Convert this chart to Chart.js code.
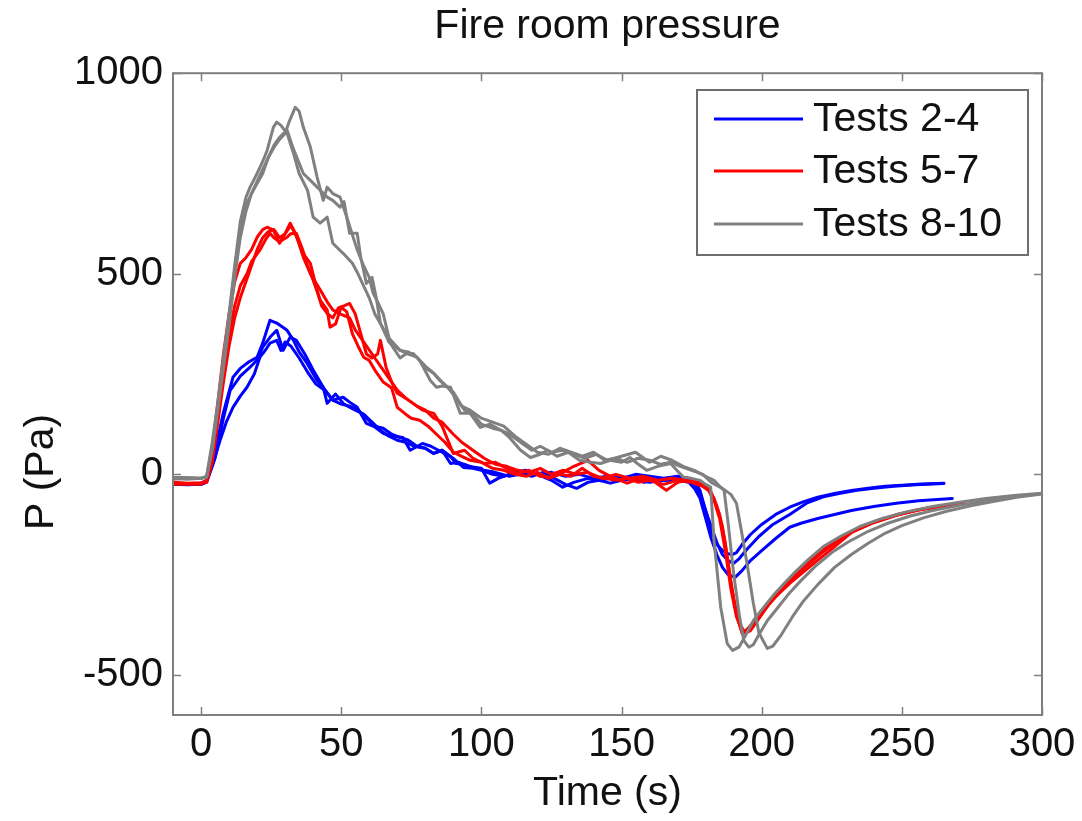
<!DOCTYPE html>
<html>
<head>
<meta charset="utf-8">
<script src="https://cdn.jsdelivr.net/npm/chart.js@4.4.1/dist/chart.umd.min.js"></script>
<style>
html,body{margin:0;padding:0;background:#fff;}
canvas{display:block;}
</style>
</head>
<body>
<canvas id="c" width="1082" height="821"></canvas>
<script>
// ---- text ----
const chartTitle = 'Fire room pressure';
const xLabel = 'Time (s)';
const yLabel = 'P (Pa)';
const groupLabels = ['Tests 2-4', 'Tests 5-7', 'Tests 8-10'];
const xTicks = [0, 50, 100, 150, 200, 250, 300];
const yTicks = [-500, 0, 500, 1000];

// ---- series: [time (s), pressure (Pa)] ----
const blue1 = [[-10,-25],[-5,-25],[0,-25],[2,-18],[4.3,35],[7.9,152],[11.4,242],[14,264],[17,280],[20,292],[22,327],[24.6,384],[27,377],[30.7,359],[33,334],[35,305],[37.8,277],[41.4,234],[43.6,217],[47,185],[50.7,192],[53,180],[55.7,167],[59,127],[62,118],[65,102],[68,95],[72,92],[74.6,60],[79,77],[82,70],[86,55],[90,40],[93.6,17],[97,15],[100,10],[104,0],[108,-5],[112,5],[116,10],[120,0],[125,5],[130,-5],[135,0],[140,-10],[145,-5],[150,-10],[155,0],[160,-5],[165,-10],[170,-5],[174,-10],[176,-15],[178,-40],[180,-90],[182,-140],[184,-175],[186,-190],[188,-198],[189.5,-200],[191,-195],[193,-175],[196,-150],[200,-125],[205,-100],[210,-82],[215,-68],[220,-57],[226,-48],[232,-40],[238,-35],[244,-30],[250,-27],[257,-24],[265,-22]];
const blue2 = [[-10,-22],[-5,-23],[0,-22],[2,-15],[5,40],[8,140],[10.4,209],[14,245],[17.5,267],[20,285],[22,317],[25,345],[27,359],[29.3,309],[31.8,342],[34,334],[37,300],[40,260],[43.6,217],[45,177],[48,200],[51,175],[55,160],[58,150],[61,130],[64,110],[67,95],[70,85],[73,80],[76,70],[80,65],[83,52],[86,60],[89,27],[92,30],[95,20],[98,17],[101,10],[105,5],[110,-5],[115,2],[120,0],[125,-15],[129,-32],[133,-20],[138,-10],[143,-15],[148,-5],[153,-10],[158,-20],[163,-15],[168,-15],[173,-10],[176,-25],[178,-50],[180,-90],[182,-130],[184,-170],[186,-200],[188,-215],[190,-222],[192,-210],[195,-185],[199,-155],[204,-125],[210,-100],[216,-72],[222,-56],[228,-47],[234,-40],[240,-35],[247,-30],[255,-26],[265,-23]];
const blue3 = [[-10,-25],[-5,-26],[0,-25],[2,-20],[4,20],[6.8,85],[9,130],[11.4,167],[14,195],[16.4,217],[19,250],[21,292],[23,310],[24.6,327],[27,334],[28.5,309],[30,330],[32,320],[35,290],[38,255],[41,225],[44,210],[47,185],[50,175],[53,170],[56,160],[59,140],[62,120],[65,115],[68,100],[71,92],[74,85],[77,70],[80,65],[83,52],[86,60],[89,45],[91,27],[94,25],[97,17],[100,15],[103,-22],[106,-10],[110,0],[114,2],[118,-5],[122,5],[126,-10],[130,-25],[134,-35],[138,-20],[142,-15],[146,-22],[150,-15],[155,-10],[160,-20],[165,-15],[170,-15],[174,-20],[176,-35],[178,-60],[180,-110],[182,-160],[184,-200],[186,-232],[188,-250],[190.5,-257],[193,-240],[196,-215],[200,-190],[205,-160],[210,-132],[214,-122],[220,-110],[226,-100],[232,-90],[240,-80],[248,-72],[256,-66],[268,-60]];

const red1 = [[-10,-25],[-5,-24],[0,-25],[2,-15],[4,60],[6,180],[8,300],[10,400],[12,480],[14,526],[16,540],[18,560],[20,591],[22,610],[23.6,616],[25.8,609],[28,576],[30,600],[31.8,626],[33,610],[35,576],[37,545],[39,526],[41.4,459],[43,420],[45,401],[47,390],[49,415],[51,420],[53,426],[55,400],[57,350],[59,300],[61,290],[63,300],[64,334],[66,267],[68,230],[70,202],[73,190],[76,175],[79,160],[83,152],[86,120],[90,52],[94,60],[97,40],[101,27],[105,30],[109,15],[113,2],[117,10],[121,-5],[125,-7],[129,5],[133,20],[138,35],[142,10],[146,-5],[152,-22],[157,-10],[161,-15],[166,-40],[170,-20],[174,-15],[178,-20],[181,-35],[183,-60],[185,-100],[187,-170],[189,-270],[191,-347],[193,-397],[195,-385],[200,-345],[205,-305],[210,-272],[218.6,-222],[225.7,-182],[232,-145],[240,-120],[248,-102],[256,-88],[264,-80],[272,-72]];
const red2 = [[-10,-22],[-5,-23],[0,-22],[2,-18],[4,40],[6,150],[8,260],[10,350],[12,420],[14,470],[16.4,500],[18,530],[21,559],[23,585],[24.6,601],[26,590],[28,580],[30.7,591],[32,600],[34,601],[36,565],[38,520],[40,484],[42.5,434],[45,410],[46,367],[48,375],[50,417],[52,405],[54,350],[56,320],[58,292],[60,284],[62,260],[65,230],[68,215],[70,167],[73,150],[75,140],[78,135],[81,120],[84,100],[87,80],[90,55],[93,45],[96,35],[100,30],[104,15],[108,10],[112,0],[116,-5],[120,5],[124,-10],[128,0],[132,-5],[136,15],[140,-5],[144,-10],[148,-15],[152,-10],[156,-20],[160,-15],[165,-25],[170,-15],[175,-20],[179,-30],[182,-45],[184,-80],[186,-130],[188,-220],[190,-310],[192,-370],[194,-395],[196,-390],[199,-360],[203,-320],[207,-290],[211,-262],[216,-228],[221,-198],[226,-172],[232,-145],[240,-120],[248,-102],[256,-89],[265,-79],[272,-73]];
const red3 = [[-10,-20],[-5,-22],[0,-21],[2,-20],[4,30],[6,130],[8,230],[10,320],[12,390],[14,440],[16,480],[18,520],[20,560],[22,590],[24,605],[26,610],[28,590],[30,600],[32,620],[34,595],[36.5,541],[39,500],[42.5,460],[45,430],[47,410],[49.6,400],[53,390],[55,360],[58,330],[61,300],[64,270],[67,240],[70,210],[73,190],[77,170],[80,160],[83,140],[86,130],[90,100],[93,80],[97,60],[101,40],[105,25],[109,20],[113,10],[117,5],[121,15],[125,0],[129,10],[134,0],[138,5],[143,-10],[148,0],[153,-10],[158,-5],[163,-15],[168,-10],[173,-15],[178,-25],[181,-40],[183,-65],[185,-110],[187,-190],[189,-285],[191,-355],[193,-392],[195,-390],[198,-360],[202,-322],[206,-292],[210,-266],[215,-230],[220,-197],[226,-167],[233,-140],[241,-116],[249,-99],[258,-86],[266,-78],[272,-73]];

const gray1 = [[-10,-12],[-5,-10],[0,-10],[2,-5],[4,80],[6,180],[8,290],[10,400],[12,520],[14,630],[16,690],[17.5,716],[20,750],[22,780],[23.6,808],[25.8,865],[27,878],[28.5,870],[30.7,850],[33,800],[35,750],[38,708],[40,641],[42.5,626],[45,641],[47,576],[50.7,551],[54,526],[56,500],[58,470],[60,440],[62,400],[64,376],[67,330],[71,309],[74,300],[77,292],[80,265],[83,252],[86,230],[88,217],[91,190],[94,160],[97,150],[100,125],[104,115],[107,110],[110,92],[114,60],[117.5,42],[121,50],[123.6,60],[127,45],[131,55],[135,35],[139,30],[142.5,27],[146,35],[150,30],[153,42],[156,25],[159,10],[163,20],[167.5,27],[172,-7],[175,-10],[178,-15],[180,-25],[181.8,-32],[183,-165],[185.4,-332],[187.7,-422],[189.6,-439],[192,-430],[194,-405],[197,-365],[200,-338],[204,-303],[208,-272],[212,-243],[217,-210],[222,-180],[228,-155],[235,-130],[243,-110],[252,-93],[261,-80],[270,-70],[280,-60],[290,-53],[300,-47]];
const gray2 = [[-10,-8],[-5,-8],[0,-10],[2,-5],[4,70],[6,170],[8,280],[10,390],[12,510],[14,615],[16,670],[18,700],[20,730],[22,760],[24,790],[26,815],[28,835],[30,850],[31.5,880],[33.6,915],[35,905],[36.5,865],[39,816],[41.4,741],[43.6,683],[45,716],[47,700],[49.6,691],[52,641],[55.7,560],[58,520],[60,491],[61.4,451],[63,430],[65,400],[67.5,327],[71,290],[73,300],[75.7,301],[78,284],[81.8,234],[84,217],[86,220],[89,217],[92.5,152],[96,152],[99.6,117],[103,125],[107,110],[110,100],[114,80],[118,60],[121,70],[125,55],[129,60],[133,50],[137,40],[141,50],[145,35],[150,45],[155,55],[160,30],[164,45],[168,35],[172,20],[176,10],[180,-5],[183,-15],[185,-30],[186.6,-40],[188,-120],[190,-247],[192,-350],[193.6,-414],[195.4,-431],[197,-425],[199,-400],[202,-365],[206,-330],[210,-295],[214,-265],[219,-230],[225,-195],[231,-168],[238,-142],[245,-122],[253,-104],[261,-90],[270,-78],[280,-66],[290,-56],[300,-48]];
const gray3 = [[-10,-10],[-5,-12],[0,-10],[2,-8],[4,60],[6,160],[8,265],[10,370],[12,490],[14,590],[16,655],[18,700],[20,725],[22,750],[24,790],[26,820],[28,840],[30.7,858],[33,810],[36.5,750],[40,726],[42.5,708],[45,691],[47,683],[49.6,666],[51,680],[53,601],[55.7,601],[57,540],[59,476],[61,491],[62.5,440],[64,376],[67,340],[71,309],[74,305],[77,292],[80,270],[83,252],[85,235],[88,217],[90,205],[93,170],[96,160],[100,140],[104,130],[108,120],[112,95],[116,75],[120,55],[124,50],[128,65],[132,55],[136,45],[140,55],[144,35],[148,40],[152,30],[156,40],[160,35],[164,25],[167.5,30],[171,20],[175,10],[179,0],[182,-20],[186,-35],[189,-50],[191,-72],[193,-150],[195,-232],[197,-320],[199,-395],[202,-434],[204,-428],[207,-400],[211,-355],[215,-315],[220,-275],[226,-232],[232,-200],[238,-172],[244,-147],[250,-128],[258,-108],[266,-92],[275,-78],[283,-67],[291,-57],[300,-49]];

const groups = [[blue1, blue2, blue3], [red1, red2, red3], [gray1, gray2, gray3]];

// ---- styling ----
const FONT = "'Liberation Sans', Arial, Helvetica, sans-serif";
const COLORS = ['#0000ff', '#ff0000', '#808080'];
const AXIS_COLOR = '#7f7f7f';
const TEXT_COLOR = '#111111';

const datasets = [];
groups.forEach((g, gi) => {
  g.forEach(series => {
    datasets.push({
      label: groupLabels[gi],
      data: series.map(p => ({x: p[0], y: p[1]})),
      borderColor: COLORS[gi],
      backgroundColor: COLORS[gi],
      borderWidth: 3,
      pointRadius: 0,
      tension: 0,
      fill: false,
      borderJoinStyle: 'round',
      borderCapStyle: 'round',
      order: 2 - gi
    });
  });
});

const framePlugin = {
  id: 'frame',
  afterDatasetsDraw(chart) {
    const {ctx, chartArea: a, scales: {x, y}} = chart;
    ctx.save();
    ctx.strokeStyle = AXIS_COLOR;
    ctx.lineWidth = 1.5;
    const tl = 8;
    ctx.beginPath();
    xTicks.forEach(v => {
      const px = Math.round(x.getPixelForValue(v)) + 0.5;
      ctx.moveTo(px, a.bottom); ctx.lineTo(px, a.bottom - tl);
      ctx.moveTo(px, a.top); ctx.lineTo(px, a.top + tl);
    });
    yTicks.forEach(v => {
      const py = Math.round(y.getPixelForValue(v)) + 0.5;
      ctx.moveTo(a.left, py); ctx.lineTo(a.left + tl, py);
      ctx.moveTo(a.right, py); ctx.lineTo(a.right - tl, py);
    });
    ctx.stroke();
    ctx.lineWidth = 2;
    ctx.strokeRect(a.left, a.top, a.right - a.left, a.bottom - a.top);
    ctx.restore();
  }
};

const yTitlePlugin = {
  id: 'yTitle',
  afterDraw(chart) {
    const {ctx} = chart;
    ctx.save();
    ctx.translate(42, 472);
    ctx.rotate(-Math.PI / 2);
    ctx.font = '41px ' + FONT;
    ctx.fillStyle = TEXT_COLOR;
    ctx.textAlign = 'center';
    ctx.textBaseline = 'middle';
    ctx.fillText(yLabel, 0, 0);
    ctx.restore();
  }
};

const legendPlugin = {
  id: 'boxLegend',
  afterDraw(chart) {
    const {ctx} = chart;
    const bx = 697, by = 90, bw = 331, bh = 165;
    const rowY = [119, 171, 224];
    ctx.save();
    ctx.fillStyle = '#ffffff';
    ctx.fillRect(bx, by, bw, bh);
    ctx.strokeStyle = '#6e6e6e';
    ctx.lineWidth = 2;
    ctx.strokeRect(bx, by, bw, bh);
    ctx.font = '41px ' + FONT;
    ctx.textBaseline = 'middle';
    ctx.textAlign = 'left';
    groupLabels.forEach((lab, i) => {
      ctx.strokeStyle = COLORS[i];
      ctx.lineWidth = 3;
      ctx.beginPath();
      ctx.moveTo(714, rowY[i]); ctx.lineTo(803, rowY[i]);
      ctx.stroke();
      ctx.fillStyle = TEXT_COLOR;
      ctx.fillText(lab, 813, rowY[i] + 1);
    });
    ctx.restore();
  }
};

new Chart(document.getElementById('c').getContext('2d'), {
  type: 'line',
  data: {datasets},
  options: {
    responsive: false,
    animation: false,
    devicePixelRatio: 1,
    layout: {padding: {left: 0, right: 40, top: 0, bottom: 0}},
    plugins: {
      legend: {display: false},
      tooltip: {enabled: false},
      title: {
        display: true,
        text: chartTitle,
        fullSize: false,
        color: TEXT_COLOR,
        font: {family: FONT, size: 41, weight: 'normal', lineHeight: 1.2},
        padding: {top: 2, bottom: 22}
      }
    },
    scales: {
      x: {
        type: 'linear',
        min: -10, max: 300,
        afterBuildTicks: s => { s.ticks = xTicks.map(v => ({value: v})); },
        afterFit: s => { s.height = 106; },
        grid: {display: false, drawTicks: false},
        border: {display: false},
        ticks: {font: {family: FONT, size: 40}, color: TEXT_COLOR, padding: 6, maxRotation: 0, autoSkip: false, callback: v => String(v)},
        title: {display: true, text: xLabel, color: TEXT_COLOR, font: {family: FONT, size: 41, lineHeight: 1.2}, padding: {top: 0, bottom: 3}}
      },
      y: {
        type: 'linear',
        min: -600, max: 1000,
        afterBuildTicks: s => { s.ticks = yTicks.map(v => ({value: v})); },
        afterFit: s => { s.width = 173; },
        grid: {display: false, drawTicks: false},
        border: {display: false},
        ticks: {font: {family: FONT, size: 40}, color: TEXT_COLOR, padding: 10, autoSkip: false, callback: v => String(v)}
      }
    }
  },
  plugins: [framePlugin, yTitlePlugin, legendPlugin]
});
</script>
</body>
</html>
